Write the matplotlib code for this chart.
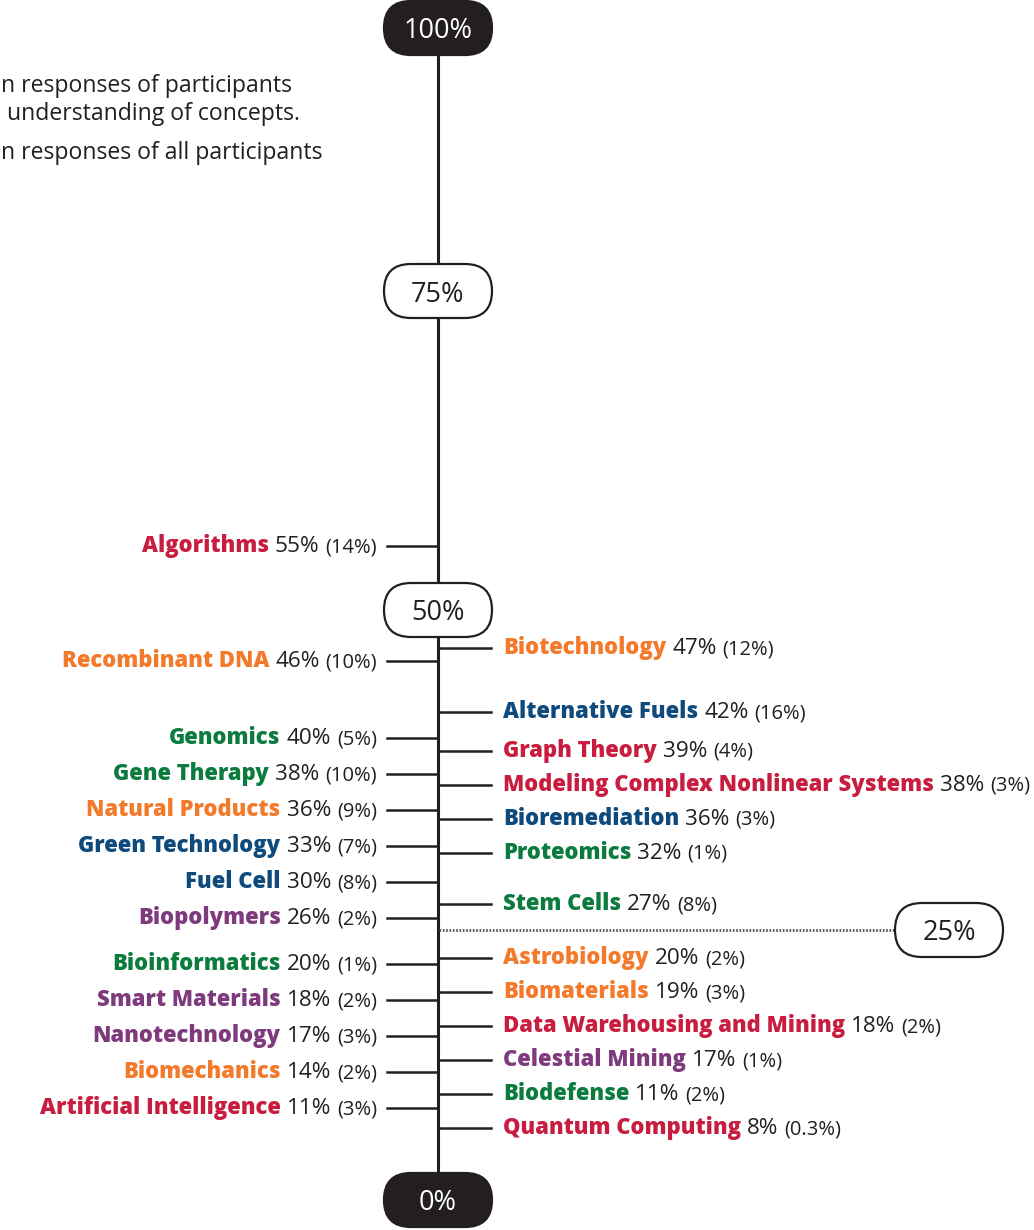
import numpy as np
import matplotlib
matplotlib.use("Agg")
import matplotlib.pyplot as plt
from matplotlib.transforms import IdentityTransform
from matplotlib.patches import FancyBboxPatch
from matplotlib.lines import Line2D

# ---------------- data ----------------
left_names = ["Algorithms", "Recombinant DNA", "Genomics", "Gene Therapy",
              "Natural Products", "Green Technology", "Fuel Cell", "Biopolymers",
              "Bioinformatics", "Smart Materials", "Nanotechnology", "Biomechanics",
              "Artificial Intelligence"]
left_values = [55, 46, 40, 38, 36, 33, 30, 26, 20, 18, 17, 14, 11]
left_all = [14, 10, 5, 10, 9, 7, 8, 2, 1, 2, 3, 2, 3]
left_groups = ["computing", "bioeng", "life", "life", "bioeng", "energy", "energy",
               "materials", "life", "materials", "materials", "bioeng", "computing"]

right_names = ["Biotechnology", "Alternative Fuels", "Graph Theory",
               "Modeling Complex Nonlinear Systems", "Bioremediation", "Proteomics",
               "Stem Cells", "Astrobiology", "Biomaterials", "Data Warehousing and Mining",
               "Celestial Mining", "Biodefense", "Quantum Computing"]
right_values = [47, 42, 39, 38, 36, 32, 27, 20, 19, 18, 17, 11, 8]
right_all = [12, 16, 4, 3, 3, 1, 8, 2, 3, 2, 1, 2, 0.3]
right_groups = ["bioeng", "energy", "computing", "computing", "energy", "life", "life",
                "bioeng", "bioeng", "computing", "materials", "life", "computing"]

milestones = [0, 25, 50, 75, 100]
legend_lines = ["n responses of participants", " understanding of concepts.",
                "n responses of all participants"]

# ---------------- style ----------------
group_colors = {"computing": "#C81D3E", "bioeng": "#F47A2B", "life": "#0B7B3E",
                "energy": "#0F4A7C", "materials": "#7E3A7C"}
INK = "#231F20"
W, H = 1034, 1230
FAM = "Open Sans"
NAME_FONT = dict(family=FAM, fontweight="heavy", fontsize=15.8)
VAL_FONT = dict(family=FAM, fontweight="normal", fontsize=16.2)
PAR_FONT = dict(family=FAM, fontweight="normal", fontsize=14.5)

# piecewise axis scale (value -> pixel height from bottom)
AV = np.array([-20, 0, 25, 50, 75, 100, 120], float)
AP = np.array([30 - 20 * 10.8, 30, 300, 620, 939, 1202, 1202 + 20 * 10.52], float)


def fwd(v):
    return np.interp(np.asarray(v, float), AV, AP)


def inv(p):
    return np.interp(np.asarray(p, float), AP, AV)


fig = plt.figure(figsize=(W / 100, H / 100), dpi=100)
ax = fig.add_axes([0, 0, 1, 1])
ax.set_yscale("function", functions=(fwd, inv))
ax.set_xlim(0, W)
ax.set_ylim(float(inv(0)), float(inv(H)))
ax.axis("off")
idt = IdentityTransform()

AXIS_X = 438
# main vertical axis
ax.plot([AXIS_X, AXIS_X], [milestones[0], milestones[-1]], color=INK, lw=2.2,
        solid_capstyle="butt", zorder=1)


def to_top(values):
    disp = ax.transData.transform(np.column_stack([np.full(len(values), AXIS_X),
                                                   np.asarray(values, float)]))[:, 1]
    return H - disp


def layout(targets, gap, bottom):
    """Top-down label placement: push overlapping labels down, then keep the
    stack above a bottom limit by pushing back up."""
    pos = list(targets)
    for i in range(1, len(pos)):
        pos[i] = max(pos[i], pos[i - 1] + gap)
    pos[-1] = min(pos[-1], bottom)
    for i in range(len(pos) - 2, -1, -1):
        pos[i] = min(pos[i], pos[i + 1] - gap)
    return pos


fig.canvas.draw()
renderer = fig.canvas.get_renderer()


def pct(v):
    return f"{v:g}%"


SP = 6


def draw_side(names, values, alls, groups, side, gap, bottom):
    ys = layout(list(to_top(values)), gap, bottom)
    for name, v, a, g, y in zip(names, values, alls, groups, ys):
        yd = H - y
        base = H - (y + 6)
        if side == "left":
            fig.add_artist(Line2D([387, AXIS_X], [yd, yd], transform=idt, color=INK, lw=1.8))
            x = 377
            t = ax.text(x, base, f"({pct(a)})", transform=idt, ha="right", va="baseline",
                        color=INK, **PAR_FONT)
            x = t.get_window_extent(renderer).x0 - SP
            t = ax.text(x, base, pct(v), transform=idt, ha="right", va="baseline",
                        color=INK, **VAL_FONT)
            x = t.get_window_extent(renderer).x0 - SP
            ax.text(x, base, name, transform=idt, ha="right", va="baseline",
                    color=group_colors[g], **NAME_FONT)
        else:
            fig.add_artist(Line2D([AXIS_X, 491], [yd, yd], transform=idt, color=INK, lw=1.8))
            x = 503
            t = ax.text(x, base, name, transform=idt, ha="left", va="baseline",
                        color=group_colors[g], **NAME_FONT)
            x = t.get_window_extent(renderer).x1 + SP
            t = ax.text(x, base, pct(v), transform=idt, ha="left", va="baseline",
                        color=INK, **VAL_FONT)
            x = t.get_window_extent(renderer).x1 + SP
            ax.text(x, base, f"({pct(a)})", transform=idt, ha="left", va="baseline",
                    color=INK, **PAR_FONT)


draw_side(left_names, left_values, left_all, left_groups, "left", 36, 1108)
draw_side(right_names, right_values, right_all, right_groups, "right", 34, 1128)

# milestone bubbles
BW, BH = 108, 54
for m in milestones:
    cx = 949 if m == 25 else AXIS_X
    cy = ax.transData.transform((cx, m))[1]
    filled = m in (0, 100)
    if m == 25:
        fig.add_artist(Line2D([AXIS_X + 1, cx - BW / 2], [cy, cy], transform=idt,
                              color="#555555", lw=2.0, linestyle=(0, (0.6, 0.6))))
    p = FancyBboxPatch((cx - BW / 2, cy - BH / 2), BW, BH,
                       boxstyle=f"round,pad=0,rounding_size={BH / 2}",
                       transform=idt, facecolor=INK if filled else "white",
                       edgecolor=INK, lw=1.6, zorder=5)
    fig.add_artist(p)
    fig.text(cx, cy, f"{m}%", transform=idt, ha="center", va="center_baseline",
             color="white" if filled else INK, family=FAM, fontsize=19.5, zorder=6)

# legend text (cropped at left edge)
for txt, yb in zip(legend_lines, [92, 120, 159]):
    fig.text(1, H - yb, txt, transform=idt, ha="left", va="baseline", color=INK,
             family=FAM, fontsize=16.6)

fig.savefig("out.png", dpi=100)
